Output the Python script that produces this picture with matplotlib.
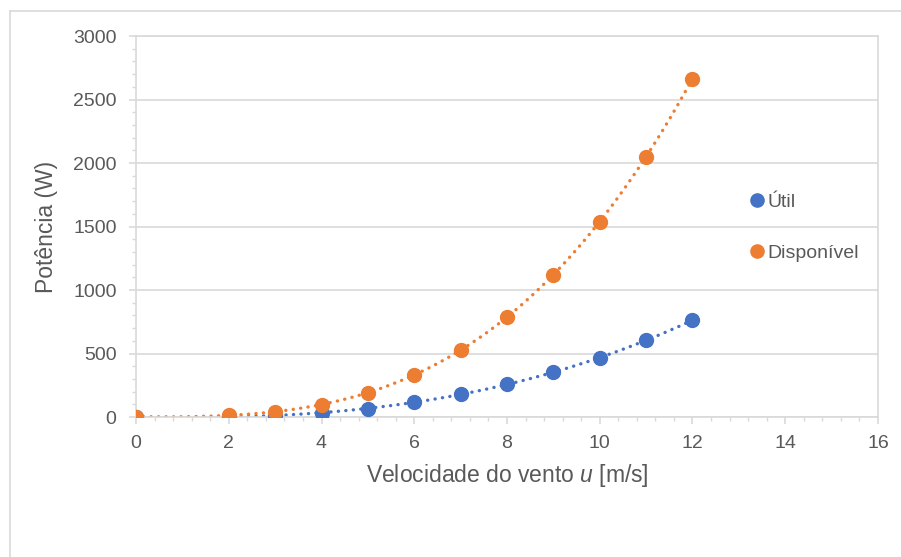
import matplotlib
matplotlib.use('Agg')
import matplotlib.pyplot as plt
from matplotlib.lines import Line2D
from matplotlib.ticker import MultipleLocator
import numpy as np

# wind speed (m/s) and power (W)
velocidade = [0, 2, 3, 4, 5, 6, 7, 8, 9, 10, 11, 12]
util = [0, 3, 12, 33, 65, 115, 180, 256, 355, 465, 605, 762]
disponivel = [0, 12, 42, 98, 192, 332, 527, 787, 1122, 1537, 2050, 2665]

AZUL = '#4472C4'
LARANJA = '#ED7D31'
TEXTO = '#595959'
GRADE = '#D9D9D9'

plt.rcParams['font.family'] = ['Liberation Sans', 'DejaVu Sans']
plt.rcParams['mathtext.fontset'] = 'custom'
plt.rcParams['mathtext.it'] = 'Liberation Sans:italic'
plt.rcParams['mathtext.rm'] = 'Liberation Sans'

W, H = 901, 557
fig = plt.figure(figsize=(W / 100, H / 100), dpi=100)
ax = fig.add_axes([136 / W, (H - 417) / H, (878 - 136) / W, (417 - 36) / H])

x = np.array(velocidade, dtype=float)
xs = np.linspace(0, 12, 300)
for serie, cor, nome in [(util, AZUL, 'Útil'), (disponivel, LARANJA, 'Disponível')]:
    coef = np.polyfit(x, serie, 3)
    ax.plot(xs, np.polyval(coef, xs), color=cor, lw=2.4, ls=(0, (0.05, 2.2)),
            dash_capstyle='round', zorder=2)
    ax.plot(x, serie, 'o', color=cor, ms=10, mec=cor, label=nome, zorder=3)

ax.set_xlim(0, 16)
ax.set_ylim(0, 3000)
ax.xaxis.set_major_locator(MultipleLocator(2))
ax.xaxis.set_minor_locator(MultipleLocator(0.4))
ax.yaxis.set_major_locator(MultipleLocator(500))
ax.yaxis.set_minor_locator(MultipleLocator(100))
ax.grid(axis='y', which='major', color=GRADE, lw=1.2)
ax.set_axisbelow(True)
for lado in ['top', 'right', 'left', 'bottom']:
    ax.spines[lado].set_color(GRADE)
    ax.spines[lado].set_linewidth(1.2)
ax.tick_params(which='major', length=5, color=GRADE, width=1.2,
               labelcolor=TEXTO, labelsize=14, pad=8)
ax.tick_params(axis='y', which='major', pad=9)
ax.tick_params(which='minor', length=3, color=GRADE, width=1.0)

ax.set_xlabel(r'Velocidade do vento $\mathit{u}$ [m/s]', color=TEXTO, fontsize=16.5, labelpad=7)
ax.set_ylabel('Potência (W)', color=TEXTO, fontsize=16.5, labelpad=11)

ax.legend(loc='upper left', bbox_to_anchor=((749 - 136) / 742, (417 - 193) / 381),
          frameon=False, handletextpad=0.15, labelspacing=1.75, fontsize=14,
          labelcolor=TEXTO, markerscale=0.95, handlelength=0.8, borderaxespad=0,
          borderpad=0)

# chart area border
fig.add_artist(Line2D([10 / W, 1], [1 - 11 / H, 1 - 11 / H], color=GRADE, lw=1.2,
                      transform=fig.transFigure))
fig.add_artist(Line2D([10 / W, 10 / W], [0, 1 - 11 / H], color=GRADE, lw=1.2,
                      transform=fig.transFigure))

fig.savefig('out.png', dpi=100, facecolor='white')
